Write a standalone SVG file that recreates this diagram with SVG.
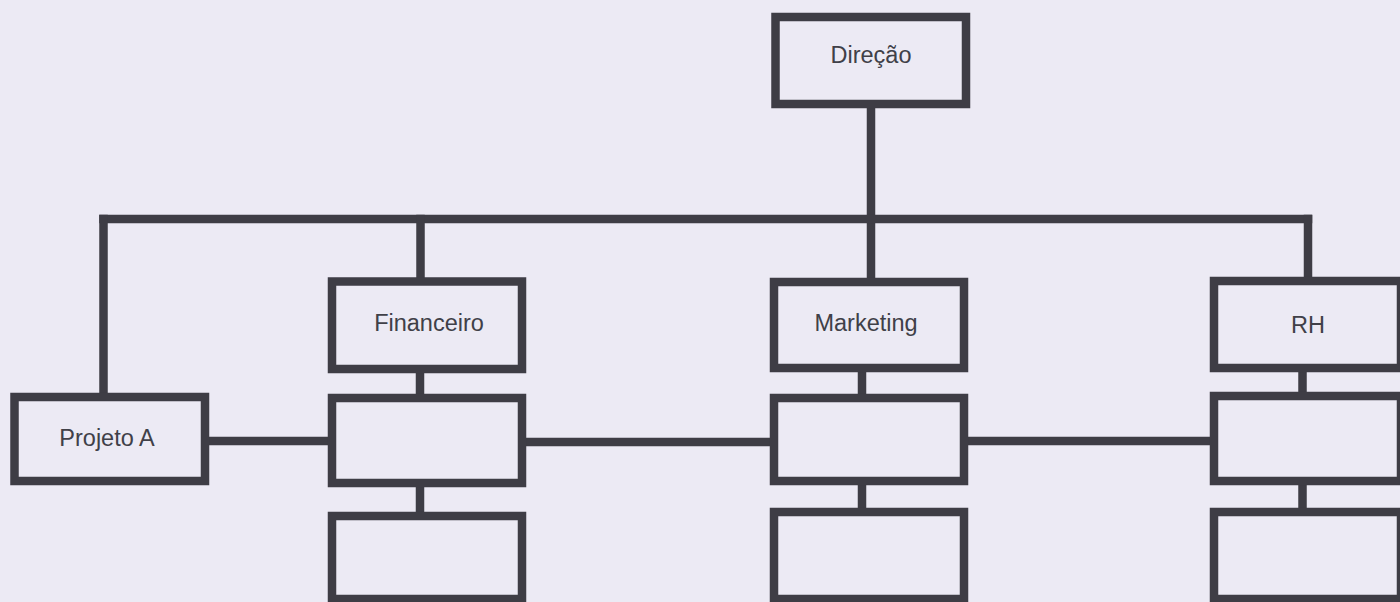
<svg xmlns="http://www.w3.org/2000/svg" width="1400" height="602" viewBox="0 0 1400 602">
  <style>
    .box { fill: #eceaf4; stroke: #3e3d45; stroke-width: 8.5; }
    .conn { stroke: #3e3d45; stroke-width: 8.5; fill: none; stroke-linecap: square; }
    .lbl { font-family: "Liberation Sans", Arial, sans-serif; font-size: 23.5px; fill: #404048; text-anchor: middle; }
  </style>
  <rect x="0" y="0" width="1400" height="602" fill="#eceaf4"/>
  <g id="connectors">
    <line class="conn" x1="871" y1="104" x2="871" y2="282"/>
    <line class="conn" x1="103.5" y1="219" x2="1308" y2="219"/>
    <line class="conn" x1="103.5" y1="219" x2="103.5" y2="397"/>
    <line class="conn" x1="420.5" y1="219" x2="420.5" y2="281"/>
    <line class="conn" x1="1308" y1="219" x2="1308" y2="281"/>
    <line class="conn" x1="420" y1="369" x2="420" y2="398"/>
    <line class="conn" x1="420" y1="483" x2="420" y2="516"/>
    <line class="conn" x1="862" y1="368" x2="862" y2="398"/>
    <line class="conn" x1="862" y1="481" x2="862" y2="512"/>
    <line class="conn" x1="1302.5" y1="368" x2="1302.5" y2="396"/>
    <line class="conn" x1="1302.5" y1="481" x2="1302.5" y2="512"/>
    <line class="conn" x1="205" y1="441" x2="332" y2="441"/>
    <line class="conn" x1="522" y1="442" x2="778" y2="442"/>
    <line class="conn" x1="964" y1="441" x2="1214" y2="441"/>
  </g>
  <g id="direcao">
    <rect class="box" x="775.5" y="17" width="190.5" height="87"/>
    <text class="lbl" x="871" y="63">Direção</text>
  </g>
  <g id="financeiro">
    <rect class="box" x="332" y="281.5" width="190" height="87.5"/>
    <text class="lbl" x="429" y="331">Financeiro</text>
  </g>
  <g id="marketing">
    <rect class="box" x="774" y="282" width="190" height="86"/>
    <text class="lbl" x="866" y="331">Marketing</text>
  </g>
  <g id="rh">
    <rect class="box" x="1214" y="281" width="187" height="87"/>
    <text class="lbl" x="1308" y="333">RH</text>
  </g>
  <g id="projeto-a">
    <rect class="box" x="14.5" y="397" width="190.5" height="84"/>
    <text class="lbl" x="107" y="446">Projeto A</text>
  </g>
  <g id="financeiro-2">
    <rect class="box" x="332" y="398" width="190" height="85"/>
  </g>
  <g id="marketing-2">
    <rect class="box" x="774" y="398" width="190" height="83"/>
  </g>
  <g id="rh-2">
    <rect class="box" x="1214" y="396" width="187" height="85"/>
  </g>
  <g id="financeiro-3">
    <rect class="box" x="332" y="516" width="190" height="83"/>
  </g>
  <g id="marketing-3">
    <rect class="box" x="774" y="512" width="190" height="87"/>
  </g>
  <g id="rh-3">
    <rect class="box" x="1214" y="512" width="187" height="87"/>
  </g>
</svg>
